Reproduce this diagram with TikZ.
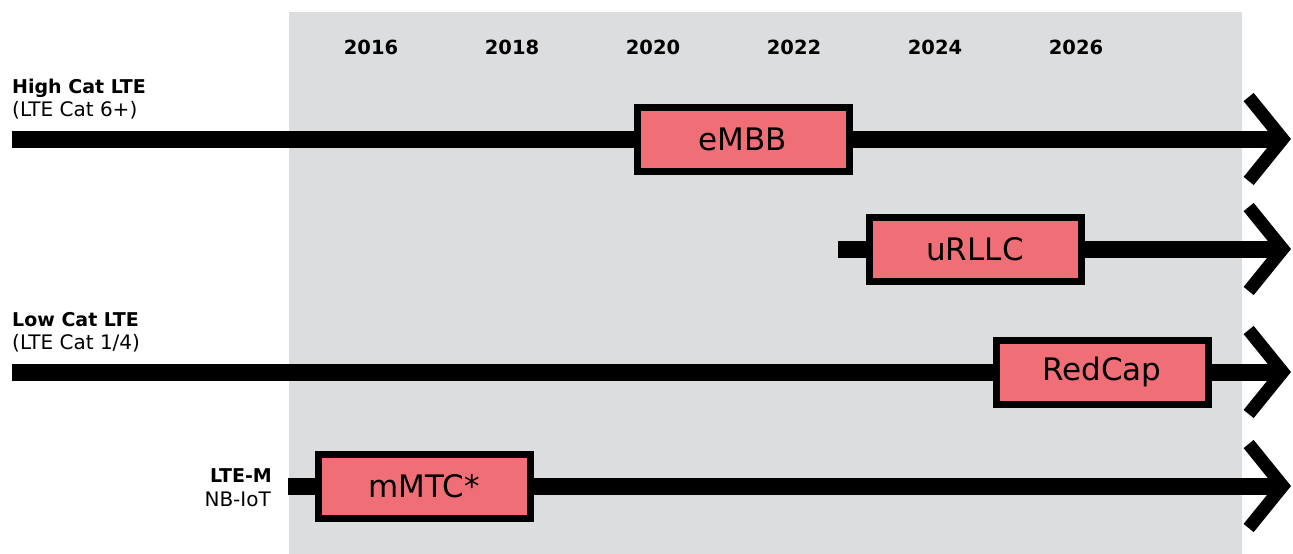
\documentclass[tikz,border=0pt]{standalone}
\usepackage{fontspec}
\setmainfont{DejaVu Sans}
\usetikzlibrary{arrows.meta}
\definecolor{bggray}{HTML}{DCDDDF}
\definecolor{boxred}{HTML}{F06E76}

\begin{document}
\begin{tikzpicture}[
        x=1pt, y=-1pt,
        box/.style={draw=black, line width=7pt, fill=boxred,
            minimum width=212pt, minimum height=64pt,
            font=\fontsize{31}{33}\selectfont},
        year/.style={font=\bfseries\fontsize{19.5}{22}\selectfont},
        head/.style={font=\bfseries\fontsize{19}{22}\selectfont},
        sub/.style={font=\fontsize{20}{23}\selectfont},
        lane/.style={line width=17pt},
        lanearrow/.style={line width=17pt,
            -{Straight Barb[length=34pt, width=84pt, line width=13pt]}}]

        % BACKGROUND
        \useasboundingbox (0,0) rectangle (1293,554);
        \fill[bggray] (289,12) rectangle (1242,554);

        % YEARS
        \node[year] (y2016) at (371,47) {2016};
        \node[year] (y2018) at (512,47) {2018};
        \node[year] (y2020) at (653,47) {2020};
        \node[year] (y2022) at (794,47) {2022};
        \node[year] (y2024) at (935,47) {2024};
        \node[year] (y2026) at (1076,47) {2026};

        % LABELS
        \node[head, anchor=base west, inner sep=0pt] (high) at (12,93) {High Cat LTE};
        \node[sub, anchor=base west, inner sep=0pt] (highsub) at (12,116) {(LTE Cat 6+)};
        \node[head, anchor=base west, inner sep=0pt] (low) at (12,326) {Low Cat LTE};
        \node[sub, anchor=base west, inner sep=0pt] (lowsub) at (12,349) {(LTE Cat 1/4)};
        \node[head, anchor=base east, inner sep=0pt] (ltem) at (272,482) {LTE-M};
        \node[sub, anchor=base east, inner sep=0pt] (nbiot) at (271,506) {NB-IoT};

        % BOXES
        \node[box] (eMBB) at (743,139) {eMBB};
        \node[box] (uRLLC) at (975,249) {uRLLC};
        \node[box] (RedCap) at (1102,372) {RedCap};
        \node[box] (mMTC) at (424,486) {mMTC*};

        % ENDS
        \coordinate (high-start) at (12,139);
        \coordinate (high-end) at (1291,139);
        \coordinate (url-start) at (838,249);
        \coordinate (url-end) at (1291,249);
        \coordinate (low-start) at (12,372);
        \coordinate (low-end) at (1291,372);
        \coordinate (iot-start) at (288,486);
        \coordinate (iot-end) at (1291,486);

        % ARROWS
        \draw[lane] (high-start) -- (eMBB.west);
        \draw[lanearrow] (eMBB.east) -- (high-end);
        \draw[lane] (url-start) -- (uRLLC.west);
        \draw[lanearrow] (uRLLC.east) -- (url-end);
        \draw[lane] (low-start) -- (RedCap.west);
        \draw[lanearrow] (RedCap.east) -- (low-end);
        \draw[lane] (iot-start) -- (mMTC.west);
        \draw[lanearrow] (mMTC.east) -- (iot-end);
\end{tikzpicture}
\end{document}
